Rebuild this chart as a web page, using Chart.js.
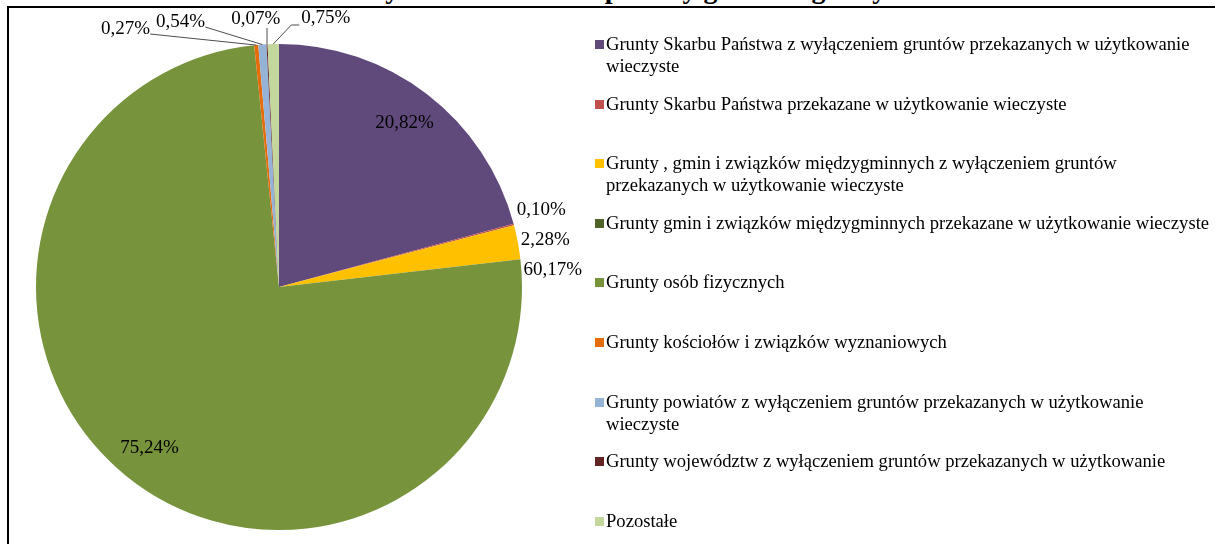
<!DOCTYPE html>
<html><head><meta charset="utf-8">
<script src="https://cdn.jsdelivr.net/npm/chart.js@4/dist/chart.umd.min.js"></script>
<style>
html,body{margin:0;padding:0;width:1215px;height:544px;overflow:hidden;background:#fff;}
#wrap{position:relative;width:1215px;height:544px;overflow:hidden;}
#title{position:absolute;left:0;width:1290px;top:-27px;text-align:center;font:bold 28px "Liberation Serif";white-space:nowrap;color:#000;}
#frame{position:absolute;left:7px;top:6px;width:1230px;height:560px;border-top:2px solid #000;border-left:2px solid #000;}
#c{position:absolute;left:0;top:0;}
#legend{position:absolute;left:595px;top:33px;width:640px;font:18.6px "Liberation Serif";color:#000;}
.item{height:59.6px;position:relative;}
.sw{position:absolute;left:0;top:7px;width:9px;height:9px;}
.tx{margin-left:11px;line-height:22px;white-space:pre;}
</style>
</head><body>
<div id="wrap">
<div id="title">Struktury własności – stan prawny gruntów gminy Wiśniowa</div>
<div id="frame"></div>
<canvas id="c" width="1215" height="544"></canvas>
<div id="legend"></div>
</div>
<script>
// ---- data ----
const categories = [
  "Grunty Skarbu Państwa z wyłączeniem gruntów przekazanych w użytkowanie\nwieczyste",
  "Grunty Skarbu Państwa przekazane w użytkowanie wieczyste",
  "Grunty , gmin i związków międzygminnych z wyłączeniem gruntów\nprzekazanych w użytkowanie wieczyste",
  "Grunty gmin i związków międzygminnych przekazane w użytkowanie wieczyste",
  "Grunty osób fizycznych",
  "Grunty kościołów i związków wyznaniowych",
  "Grunty powiatów z wyłączeniem gruntów przekazanych w użytkowanie\nwieczyste",
  "Grunty województw z wyłączeniem gruntów przekazanych w użytkowanie",
  "Pozostałe"
];
const values = [20.82, 0.10, 2.28, 0, 75.24, 0.27, 0.54, 0.07, 0.75];
const pctLabels = ["20,82%", "0,10%", "2,28%", "60,17%", "75,24%", "0,27%", "0,54%", "0,07%", "0,75%"];
const colors = ["#604A7B", "#C0504D", "#FFC000", "#4F6228", "#77933C", "#E46C0A", "#95B3D7", "#632523", "#C3D69B"];

// ---- legend ----
const lg = document.getElementById('legend');
categories.forEach((c, i) => {
  const d = document.createElement('div'); d.className = 'item';
  const s = document.createElement('div'); s.className = 'sw'; s.style.background = colors[i];
  const t = document.createElement('div'); t.className = 'tx'; t.textContent = c;
  d.appendChild(s); d.appendChild(t); lg.appendChild(d);
});

// ---- labels plugin ----
const labelPlugin = {
  id: 'pieLabels',
  afterDatasetsDraw(chart) {
    const ctx = chart.ctx;
    const meta = chart.getDatasetMeta(0);
    const total = values.reduce((a, b) => a + b, 0);
    ctx.save();
    ctx.font = '19px "Liberation Serif"';
    ctx.fillStyle = '#000';
    ctx.textBaseline = 'middle';
    const right = [], top = [];
    meta.data.forEach((arc, i) => {
      const p = arc.getProps(['x', 'y', 'startAngle', 'endAngle', 'outerRadius'], true);
      const mid = (p.startAngle + p.endAngle) / 2;
      const frac = values[i] / total;
      if (frac > 0.1) {
        const r = p.outerRadius * 0.85;
        ctx.textAlign = 'center';
        ctx.fillText(pctLabels[i], p.x + Math.cos(mid) * r, p.y + Math.sin(mid) * r);
      } else {
        const clock = ((mid + Math.PI / 2) % (2 * Math.PI) + 2 * Math.PI) % (2 * Math.PI);
        const o = { i, mid, clock, cx: p.x, cy: p.y, r: p.outerRadius,
          ax: p.x + Math.cos(mid) * p.outerRadius, ay: p.y + Math.sin(mid) * p.outerRadius };
        if (clock > Math.PI) top.push(o); else right.push(o);
      }
    });
    // right side labels: outside end, relaxed vertically
    right.sort((a, b) => a.clock - b.clock);
    right.forEach(o => {
      o.tx = o.cx + (o.r + 3) * Math.cos(o.mid);
      o.ty = o.cy + (o.r + 12) * Math.sin(o.mid);
    });
    const gap = 30;
    for (let k = 0; k < 50; k++) {
      for (let j = 1; j < right.length; j++) {
        const d = right[j].ty - right[j - 1].ty;
        if (d < gap) { const m = (gap - d) / 2; right[j].ty += m; right[j - 1].ty -= m; }
      }
    }
    ctx.textAlign = 'left';
    right.forEach(o => ctx.fillText(pctLabels[o.i], o.tx, o.ty));
    // top cluster: laid out in a row right-to-left
    top.sort((a, b) => b.clock - a.clock);
    ctx.strokeStyle = '#4d4d4d';
    ctx.lineWidth = 1;
    let prevLeft = null;
    top.forEach((o, k) => {
      const w = ctx.measureText(pctLabels[o.i]).width;
      if (k === 0) {
        o.left = o.ax + 28; o.ty = o.cy - o.r - 26;
      } else {
        o.left = prevLeft - [21, 26, 6][Math.min(k - 1, 2)] - w; o.ty = top[k - 1].ty + [1, 3, 7][Math.min(k - 1, 2)];
      }
      o.w = w; prevLeft = o.left;
      ctx.fillText(pctLabels[o.i], o.left, o.ty);
      ctx.beginPath();
      if (o.ax < o.left) {
        ctx.moveTo(o.left - 2, o.ty + 7); ctx.lineTo(o.left - 10, o.ty + 7); ctx.lineTo(o.ax, o.ay);
      } else if (o.ax > o.left + w) {
        ctx.moveTo(o.left + w, o.ty + 5); ctx.lineTo(o.ax, o.ay);
      } else {
        ctx.moveTo(o.ax, o.ty + 9); ctx.lineTo(o.ax, o.ay);
      }
      ctx.stroke();
    });
    ctx.restore();
  }
};

new Chart(document.getElementById('c'), {
  type: 'pie',
  data: {
    labels: categories,
    datasets: [{ data: values, backgroundColor: colors, borderWidth: 0 }]
  },
  options: {
    responsive: false,
    animation: false,
    devicePixelRatio: 1,
    layout: { padding: { left: 36, right: 693, top: 44, bottom: 14 } },
    plugins: { legend: { display: false }, tooltip: { enabled: false } }
  },
  plugins: [labelPlugin]
});
</script>
</body></html>
